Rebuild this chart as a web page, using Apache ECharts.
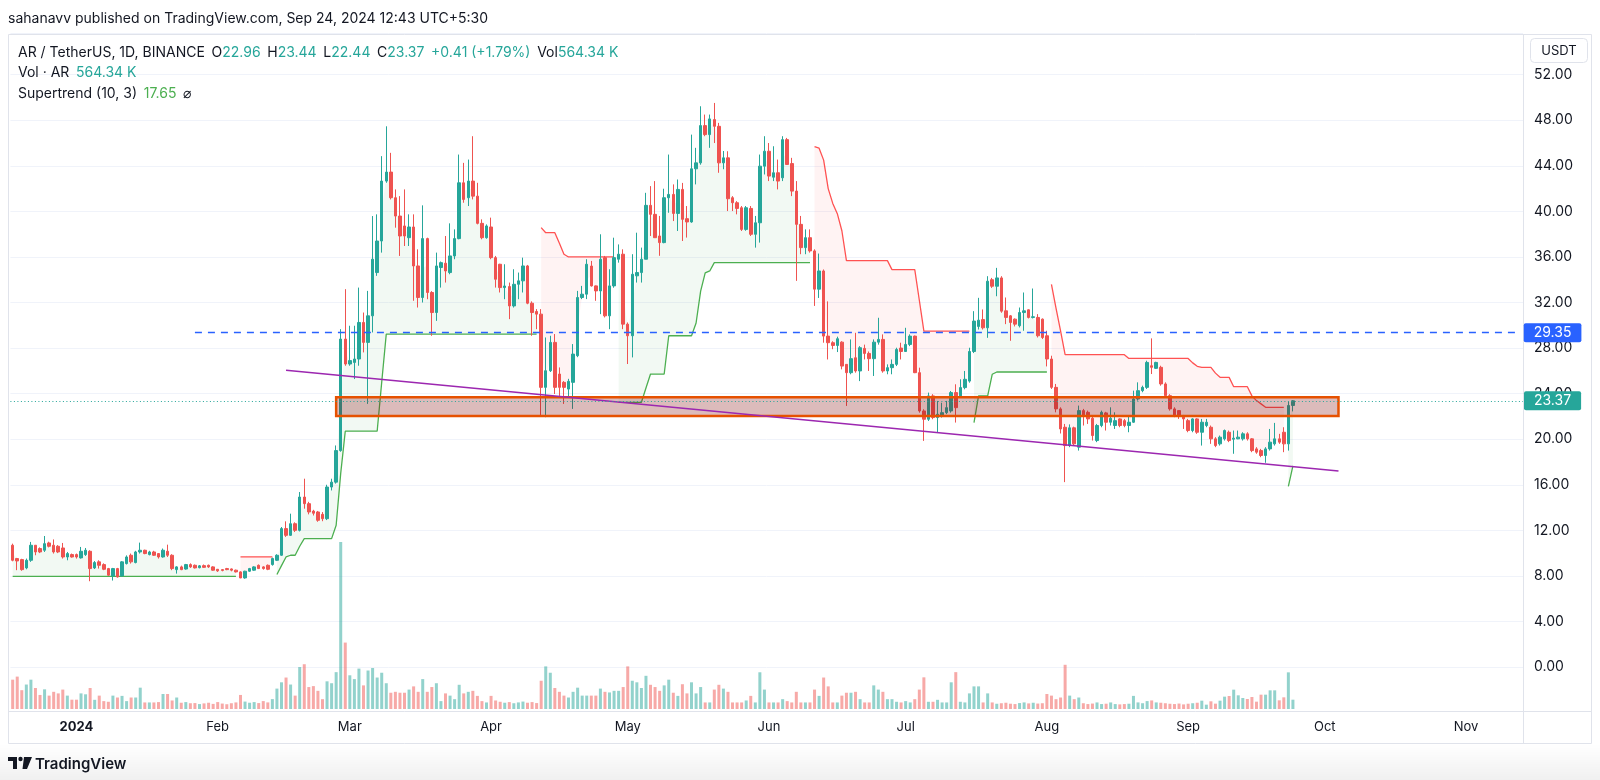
<!DOCTYPE html>
<html><head><meta charset="utf-8">
<script src="https://cdn.jsdelivr.net/npm/echarts@6/dist/echarts.min.js"></script>
<style>html,body{margin:0;padding:0;background:#fff}#c{width:1600px;height:780px}</style>
</head><body><div id="c"></div>
<script>
const _ = null;
// first category date and number of daily slots on the time axis (Dec 18 2023 .. Nov 13 2024)
const startDate = [2023, 11, 18];
const slotCount = 332;
const monthNames = ['Jan','Feb','Mar','Apr','May','Jun','Jul','Aug','Sep','Oct','Nov','Dec'];

// daily candles [open, high, low, close], Dec 18 2023 .. Sep 24 2024
const ohlc = [
[10.69,10.83,9.28,9.37],[9.52,9.58,8.50,9.31],[9.43,9.50,8.45,8.55],[8.70,9.52,8.58,9.37],[9.37,10.98,9.23,10.69],
[10.69,10.70,9.81,10.10],[10.40,10.50,10.00,10.10],[10.25,11.50,10.10,10.83],[10.89,11.00,10.50,10.60],[10.69,11.20,9.96,10.10],
[10.60,10.70,10.00,10.10],[10.45,10.89,9.52,9.66],[9.66,10.10,9.37,9.96],[9.87,9.96,9.60,9.66],[9.87,9.96,9.52,9.66],
[9.58,10.54,9.52,10.16],[9.87,10.45,9.75,10.25],[10.16,10.25,7.53,8.64],[8.70,9.30,8.60,9.17],[9.23,9.37,8.64,8.93],
[8.99,9.10,8.50,8.58],[8.64,8.70,8.00,8.06],[8.00,8.70,7.59,8.64],[8.64,8.70,7.85,7.91],[8.00,9.30,7.95,9.23],
[9.08,9.80,9.00,9.66],[9.81,9.96,9.08,9.23],[9.17,10.20,9.10,10.10],[10.10,10.92,9.96,10.25],[10.25,10.30,9.90,9.96],
[9.87,10.20,9.80,10.10],[10.10,10.20,9.75,9.81],[9.96,10.00,9.52,9.66],[9.66,10.40,9.60,10.25],[10.16,10.74,9.66,9.81],
[9.81,9.90,8.50,8.64],[8.55,8.85,8.20,8.79],[8.79,8.90,8.50,8.55],[8.60,9.05,8.55,8.99],[8.99,9.10,8.70,8.79],
[8.93,9.00,8.65,8.70],[8.72,8.95,8.66,8.88],[8.90,9.00,8.70,8.75],[8.93,8.99,8.70,8.79],[8.79,8.85,8.45,8.50],
[8.58,8.60,8.35,8.44],[8.55,8.60,8.40,8.48],[8.64,8.70,8.50,8.55],[8.61,8.65,8.40,8.50],[8.50,8.55,8.30,8.35],
[8.35,8.40,7.80,7.82],[7.82,8.45,7.75,8.41],[8.41,8.70,8.35,8.64],[8.50,8.85,8.45,8.79],[8.93,9.00,8.60,8.64],
[8.79,8.85,8.55,8.64],[8.93,9.00,8.50,8.58],[8.99,9.60,8.90,9.52],[9.37,9.90,9.30,9.81],
[9.81,12.29,9.75,12.15],[12.15,12.79,11.42,11.56],[11.56,13.46,11.50,12.58],[12.58,12.70,11.85,12.00],[12.00,15.36,11.90,14.92],
[14.92,16.53,13.90,14.34],[14.34,14.50,13.40,13.61],[13.69,13.80,13.30,13.50],[13.61,13.70,12.75,12.88],[13.40,13.60,12.80,13.02],
[13.02,16.00,12.90,15.80],[15.80,16.53,15.50,16.23],[16.23,19.45,16.10,19.00],[19.00,29.66,18.90,28.79],[28.79,33.17,26.45,26.60],
[26.60,29.96,26.45,26.90],[26.74,29.96,25.28,27.04],[27.04,33.31,26.45,30.25],[30.25,31.12,27.62,28.50],[28.50,33.02,23.10,30.83],
[30.83,39.59,29.37,35.80],[34.63,39.74,34.34,37.40],[37.40,44.85,36.38,42.66],[42.66,47.47,42.51,43.45],[43.45,45.14,41.05,41.20],
[41.20,41.93,38.57,39.59],[39.59,41.34,36.09,37.84],[38.72,41.93,36.96,37.84],[37.69,39.74,36.96,38.63],[38.63,39.74,32.15,35.21],
[35.21,36.67,31.56,32.44],[32.44,40.53,32.00,37.61],[37.61,37.69,32.29,32.88],[32.88,33.00,29.08,31.12],[31.12,36.38,30.39,35.21],
[35.07,35.60,33.31,35.50],[35.45,37.84,33.75,34.77],[34.63,38.95,34.48,36.09],[36.09,38.42,35.80,37.61],[37.61,44.99,37.55,42.51],
[42.51,44.26,40.76,41.05],[41.20,44.55,40.47,42.66],[42.66,46.60,41.05,41.34],[41.34,42.51,38.86,38.95],[38.95,39.30,37.55,37.69],
[37.69,38.86,37.60,38.72],[38.63,39.45,35.80,35.94],[35.94,36.09,33.31,34.04],[35.36,35.40,32.88,33.31],[33.31,35.36,32.29,33.45],
[33.40,33.75,30.54,31.70],[31.70,34.92,31.56,33.60],[33.60,34.63,32.29,33.90],[33.90,35.94,32.88,35.21],[35.21,35.30,31.85,31.94],
[31.94,32.10,29.08,31.12],[31.21,31.42,29.66,30.98],[30.98,31.42,22.07,24.55],[24.55,28.93,21.93,26.01],
[26.01,29.08,25.90,28.50],[28.50,29.23,23.97,24.55],[25.72,26.30,23.80,24.55],[24.99,25.10,23.10,24.55],[24.40,25.30,23.70,25.08],
[24.99,28.35,22.66,27.47],[27.33,33.02,27.20,32.44],[32.44,33.46,32.30,32.73],[32.73,35.80,32.30,35.36],[35.20,35.65,33.40,33.46],
[33.46,33.50,32.15,33.02],[33.02,37.99,30.98,35.80],[35.94,36.09,30.69,30.83],[30.83,34.92,29.66,33.46],[33.46,37.69,33.30,35.94],
[35.80,37.10,35.50,36.24],[36.24,36.67,29.66,30.10],[30.10,30.25,26.60,29.08],[29.08,36.24,27.18,34.48],[34.34,38.13,33.75,34.63],
[34.63,36.82,33.75,35.80],[35.80,41.63,35.80,40.53],[40.53,42.22,37.84,39.74],[39.74,42.66,37.69,37.69],[37.84,39.60,36.10,37.26],
[37.26,41.99,37.20,41.20],[41.20,44.99,39.88,41.49],[41.49,42.37,39.15,39.82],[39.82,42.80,38.28,41.93],[41.93,42.50,37.40,39.30],
[39.36,40.47,37.70,39.07],[39.07,46.74,39.00,43.74],[43.74,45.58,42.37,44.26],[44.26,49.23,44.10,47.53],[47.53,48.50,46.60,46.74],
[46.74,48.50,45.58,48.12],[48.06,49.52,46.00,47.47],[47.47,47.77,43.39,44.26],[44.26,45.30,43.70,44.70],[44.70,45.28,40.03,41.11],
[41.20,41.34,40.03,40.76],[40.76,40.90,39.74,40.26],[40.32,40.47,38.28,38.42],[38.42,40.47,38.30,40.32],[40.26,40.47,37.84,37.99],
[37.99,39.60,36.82,39.00],[39.00,44.99,37.26,43.97],[43.97,46.60,43.24,45.28],[45.28,46.00,42.66,43.10],[43.00,45.72,42.66,43.39],
[43.39,44.55,41.93,42.66],[42.95,46.60,42.66,46.30],[46.30,46.45,44.10,44.12],[44.20,44.70,41.34,41.78],[41.78,42.66,33.90,38.86],
[38.86,39.60,36.24,36.82],[36.82,38.42,36.24,37.69],[37.69,38.42,36.38,36.53],[36.53,36.67,31.70,33.17],[33.17,36.30,32.40,34.77],
[34.77,34.90,28.47,29.05],[29.05,32.10,27.00,28.47],[28.47,28.60,27.90,28.23],[28.23,29.00,27.65,28.82],[28.52,28.60,26.13,26.42],
[26.57,26.60,22.92,25.84],[25.84,28.76,25.70,27.07],[27.15,29.34,25.84,25.99],[25.99,28.17,25.10,28.03],[27.97,28.30,27.00,27.53],
[27.53,27.70,25.99,27.07],[27.07,28.76,25.55,28.52],[28.52,30.66,28.30,28.76],[28.76,29.20,25.84,25.99],[25.99,26.57,25.70,26.28],
[26.28,27.00,25.70,26.57],[26.57,28.03,26.42,27.88],[28.00,28.47,27.00,27.70],[27.70,29.78,27.70,28.32],[28.32,29.20,28.17,29.05],
[29.05,29.10,25.80,25.84],[25.84,26.28,22.33,22.48],[22.48,22.63,19.85,21.75],[21.75,24.09,21.60,23.80],[23.80,23.95,21.75,21.90],
[21.90,23.36,20.58,22.19],[22.04,23.20,21.90,22.33],[22.33,23.36,22.20,22.77],[22.48,24.23,22.33,24.09],[24.09,24.82,21.46,22.77],
[23.80,25.26,23.65,24.53],[24.53,25.99,24.38,25.26],[25.10,28.03,24.96,27.70],[27.70,31.24,27.56,30.37],[29.90,32.41,29.63,30.45],
[30.50,31.39,29.63,29.78],[29.78,34.31,28.90,33.87],[34.00,34.16,33.28,33.43],[33.43,35.04,32.55,34.16],[34.16,34.31,31.10,31.24],
[31.27,32.44,30.10,30.69],[30.83,30.90,28.64,30.25],[30.54,30.60,29.90,30.10],[29.96,31.56,29.81,31.12],[31.12,32.88,29.52,31.27],
[31.36,31.40,30.60,30.69],[30.69,33.23,30.60,30.75],[30.69,30.98,28.93,29.08],[30.54,30.60,28.79,28.93],[29.08,29.52,26.39,27.04],
[27.04,27.33,24.41,24.55],[24.55,24.85,22.36,22.66],[22.66,22.80,20.50,20.90],[21.05,21.34,16.23,19.44],[19.44,21.30,19.30,21.00],
[21.00,21.10,19.40,19.59],[19.30,22.95,19.00,22.51],[22.51,22.66,21.20,22.07],[22.36,22.51,21.34,21.78],[21.84,22.07,19.88,20.32],
[19.88,21.34,19.74,21.20],[21.20,22.51,21.05,22.36],[22.31,22.40,20.76,21.49],[21.49,22.80,21.20,21.84],[21.20,22.36,20.90,21.63],
[21.78,21.84,21.05,21.20],[21.63,21.78,21.05,21.20],[21.20,22.07,20.61,21.49],[21.49,24.26,21.43,23.53],[23.53,24.99,23.39,24.26],
[24.26,24.70,24.12,24.55],[24.55,26.89,24.41,26.74],[26.45,28.85,25.72,26.31],[26.22,26.80,26.16,26.74],[26.31,26.45,24.70,24.85],
[24.85,24.99,23.68,23.82],[23.82,23.95,22.51,22.66],[22.66,22.80,21.93,22.07],[22.51,22.51,21.78,22.07],[22.07,22.13,20.90,21.78],
[21.63,21.78,20.61,20.76],[20.76,21.84,20.61,21.78],[21.78,21.84,20.47,20.61],[20.61,21.78,19.44,21.49],[21.20,21.78,21.05,21.49],
[21.05,21.20,19.59,20.03],[20.03,20.18,19.30,19.44],[19.59,20.32,19.44,20.18],[20.03,20.85,19.88,20.76],[20.61,20.76,19.74,19.88],
[20.00,20.76,18.72,20.09],[20.03,20.76,20.00,20.18],[20.03,20.61,19.88,20.47],[20.47,20.61,19.88,20.03],[20.03,20.09,18.86,19.00],
[19.15,19.30,18.72,18.86],[19.00,19.15,18.42,18.57],[18.57,19.30,17.93,19.15],[19.15,20.90,19.00,19.74],[19.59,21.43,19.44,20.03],
[20.03,20.47,19.59,19.74],[20.61,21.05,18.86,19.59],[19.59,23.30,19.00,22.96],[22.96,23.44,22.44,23.37]
];

// daily volume, thousands of AR
const volumes = [
1780,1966,1142,1485,1780,1274,852,1194,812,1043,
947,1178,812,565,565,947,892,1274,557,812,
478,438,812,697,796,478,697,697,1294,398,
398,398,420,911,911,517,697,380,420,350,
360,300,340,380,310,420,330,290,350,400,
852,450,380,420,360,480,400,600,1238,1620,
1910,1485,812,2547,2718,1333,1389,1102,597,1680,
1564,2237,10137,4032,2046,1815,2452,1433,2336,2488,
1910,2201,1564,987,1043,987,987,1178,1373,1043,
1815,1043,1333,1564,478,947,812,597,1469,947,
1043,1102,796,478,398,796,517,438,380,420,
350,400,450,380,420,360,1715,2587,2201,1274,
1043,812,697,1043,1294,812,812,812,812,1238,
1043,1005,1102,1102,1333,2587,1715,1620,1274,2014,
1469,1333,1102,1433,1780,987,796,1504,947,1620,
947,1333,398,398,1178,1469,1238,1043,398,398,
398,517,796,398,2229,1178,398,398,398,597,
478,398,1043,398,398,398,1178,796,1910,1373,
398,398,812,987,987,1043,597,398,398,1433,
1178,1043,597,597,438,398,478,398,597,1178,
1922,438,438,557,398,398,1620,2237,438,398,
947,1373,1373,398,947,398,318,350,380,320,
300,360,400,340,380,330,350,911,812,597,
697,2683,812,597,697,350,300,330,398,300,
320,398,300,280,300,320,796,400,350,480,
520,400,380,350,318,300,330,280,320,350,
380,505,263,467,324,505,749,789,1174,830,
668,607,728,445,870,870,1133,1133,526,708,
2225,564.34
];

// Supertrend (10,3): up-trend (green) and down-trend (red) values
const stUp = [
7.95,7.95,7.95,7.95,7.95,7.95,7.95,7.95,7.95,7.95,
7.95,7.95,7.95,7.95,7.95,7.95,7.95,7.95,7.95,7.95,
7.95,7.95,7.95,7.95,7.95,7.95,7.95,7.95,7.95,7.95,
7.95,7.95,7.95,7.95,7.95,7.95,7.95,7.95,7.95,7.95,
7.95,7.95,7.95,7.95,7.95,7.95,7.95,7.95,7.95,7.95,
_,_,_,_,_,_,_,_,8.12,8.9,
9.66,9.81,9.81,10.6,11.27,11.27,11.27,11.27,11.27,11.27,
11.27,12.44,17.0,20.7,20.7,20.7,20.7,20.7,20.7,20.7,
20.7,25.0,29.23,29.23,29.23,29.23,29.23,29.23,29.23,29.23,
29.23,29.23,29.23,29.23,29.23,29.23,29.23,29.23,29.23,29.23,
29.23,29.23,29.23,29.23,29.23,29.23,29.23,29.23,29.23,29.23,
29.23,29.23,29.23,29.23,29.23,29.23,_,_,_,_,
_,_,_,_,_,_,_,_,_,_,
_,_,_,23.24,23.24,23.24,23.24,23.24,23.24,24.5,
25.72,25.72,25.72,25.72,29.08,29.08,29.08,29.08,29.08,29.08,
30.2,33.0,34.6,34.77,35.5,35.5,35.5,35.5,35.5,35.5,
35.5,35.5,35.5,35.5,35.5,35.5,35.5,35.5,35.5,35.5,
35.5,35.5,35.5,35.5,35.5,35.5,_,_,_,_,
_,_,_,_,_,_,_,_,_,_,
_,_,_,_,_,_,_,_,_,_,
_,_,_,_,_,_,_,_,_,_,
_,21.46,23.8,23.8,23.8,25.7,25.9,25.9,25.9,25.9,
25.9,25.9,25.9,25.9,25.9,25.9,25.9,25.9,_,_,
_,_,_,_,_,_,_,_,_,_,
_,_,_,_,_,_,_,_,_,_,
_,_,_,_,_,_,_,_,_,_,
_,_,_,_,_,_,_,_,_,_,
_,_,_,_,_,_,_,_,_,_,
15.85,17.65
];
const stDown = [
_,_,_,_,_,_,_,_,_,_,
_,_,_,_,_,_,_,_,_,_,
_,_,_,_,_,_,_,_,_,_,
_,_,_,_,_,_,_,_,_,_,
_,_,_,_,_,_,_,_,_,_,
9.66,9.66,9.66,9.66,9.66,9.66,9.66,9.66,_,_,
_,_,_,_,_,_,_,_,_,_,
_,_,_,_,_,_,_,_,_,_,
_,_,_,_,_,_,_,_,_,_,
_,_,_,_,_,_,_,_,_,_,
_,_,_,_,_,_,_,_,_,_,
_,_,_,_,_,_,38.57,38.13,38.13,38.13,
37.2,36.24,36.0,36.0,36.0,36.0,36.0,36.0,36.0,36.0,
36.0,36.0,36.0,_,_,_,_,_,_,_,
_,_,_,_,_,_,_,_,_,_,
_,_,_,_,_,_,_,_,_,_,
_,_,_,_,_,_,_,_,_,_,
_,_,_,_,_,_,45.69,45.55,44.5,42.0,
40.7,39.8,38.3,35.68,35.68,35.68,35.68,35.68,35.68,35.68,
35.68,35.68,35.68,34.89,34.89,34.89,34.89,34.89,34.89,32.2,
29.49,29.49,29.49,29.49,29.49,29.49,29.49,29.49,29.49,29.49,
29.49,_,_,_,_,_,_,_,_,_,
_,_,_,_,_,_,_,_,33.6,31.5,
29.5,27.42,27.42,27.42,27.42,27.42,27.42,27.42,27.42,27.42,
27.42,27.42,27.42,27.42,27.42,27.09,27.09,27.09,27.09,27.09,
27.09,27.09,27.09,27.09,27.09,27.09,27.09,27.09,27.09,26.7,
26.4,26.31,26.31,26.31,25.8,25.43,25.43,25.43,24.61,24.61,
24.61,24.61,23.8,23.39,23.1,22.8,22.8,22.8,22.8,22.8,
_,_
];

// drawings
const resistanceLevel = 29.35;
const resistanceFrom = '2024-01-27';
const zoneFrom = '2024-02-27', zoneTo = '2024-10-04';
const zoneTop = 23.68, zoneBottom = 22.04;
const trendFrom = ['2024-02-16', 26.06];
const trendTo = ['2024-10-04', 17.21];

const priceTicks = [0,4,8,12,16,20,24,28,32,36,40,44,48,52];

// ---------- build ----------
const cats = [];
{
  const d0 = Date.UTC(startDate[0], startDate[1], startDate[2]);
  for (let k = 0; k < slotCount; k++) cats.push(new Date(d0 + k * 86400000).toISOString().slice(0, 10));
}
const UP = '#26a69a', DOWN = '#ef5350';
const candleData = ohlc.map(r => [r[0], r[3], r[2], r[1]]);
const mid = ohlc.map(r => (r[0] + r[3]) / 2);
const bandUp = stUp.map((v, k) => v == null ? null : +(mid[k] - v).toFixed(4));
const bandDown = stDown.map((v, k) => v == null ? null : +(mid[k] - v).toFixed(4));
const volData = volumes.map((v, k) => ({
  value: v,
  itemStyle: { color: ohlc[k][3] >= ohlc[k][0] ? 'rgba(38,166,154,0.5)' : 'rgba(239,83,80,0.5)' }
}));
const last = ohlc[ohlc.length - 1], prev = ohlc[ohlc.length - 2];
const chg = last[3] - prev[3];
const pct = chg / prev[3] * 100;
const lastVol = volumes[volumes.length - 1];
const lastST = stUp[stUp.length - 1];

const FONT = 'Inter, "Noto Sans", Roboto, sans-serif';
const DARK = '#131722';
const f2 = v => v.toFixed(2);

const chart = echarts.init(document.getElementById('c'), null, { renderer: 'canvas', width: 1600, height: 780 });

const legendRich = {
  d: { fill: DARK, font: '14px ' + FONT },
  v: { fill: UP, font: '14px ' + FONT },
  g: { fill: '#4caf50', font: '14px ' + FONT }
};

chart.setOption({
  animation: false,
  textStyle: { fontFamily: FONT },
  grid: [
    { left: 10.4, right: 77, top: 33.7, height: 633.3 },
    { left: 10.4, right: 77, top: 539, height: 170 }
  ],
  xAxis: [
    { type: 'category', gridIndex: 0, data: cats, boundaryGap: true, show: false },
    {
      type: 'category', gridIndex: 1, data: cats, boundaryGap: true,
      axisLine: { show: false }, axisTick: { show: false }, splitLine: { show: false },
      axisLabel: {
        interval: (i, v) => v.slice(8) === '01',
        formatter: v => { const m = +v.slice(5, 7); return m === 1 ? '{y|' + v.slice(0, 4) + '}' : monthNames[m - 1]; },
        color: DARK, fontSize: 13, margin: 12, fontFamily: FONT,
        rich: { y: { fontWeight: 'bold', fontSize: 13, color: DARK, fontFamily: FONT } }
      }
    }
  ],
  yAxis: [
    {
      type: 'value', gridIndex: 0, position: 'right', min: 0, max: 55.6, interval: 4,
      axisLine: { show: false }, axisTick: { show: false },
      splitLine: { lineStyle: { color: '#f0f3fa', width: 1 } },
      axisLabel: {
        color: DARK, fontSize: 14, margin: 11, fontFamily: FONT,
        formatter: v => priceTicks.indexOf(Math.round(v * 100) / 100) >= 0 ? f2(v) : ''
      }
    },
    { type: 'value', gridIndex: 1, min: 0, max: 10319, show: false }
  ],
  series: [
    { type: 'line', name: 'stUp', data: stUp, stack: 'up', stackStrategy: 'all', symbol: 'none', silent: true,
      lineStyle: { color: '#4caf50', width: 1.3 }, z: 3 },
    { type: 'line', name: 'stUpFill', data: bandUp, stack: 'up', stackStrategy: 'all', symbol: 'none', silent: true,
      lineStyle: { opacity: 0, width: 0 }, areaStyle: { color: 'rgba(76,175,80,0.10)' }, z: 1 },
    { type: 'line', name: 'stDown', data: stDown, stack: 'down', stackStrategy: 'all', symbol: 'none', silent: true,
      lineStyle: { color: '#ff5252', width: 1.3 }, z: 3 },
    { type: 'line', name: 'stDownFill', data: bandDown, stack: 'down', stackStrategy: 'all', symbol: 'none', silent: true,
      lineStyle: { opacity: 0, width: 0 }, areaStyle: { color: 'rgba(255,82,82,0.10)' }, z: 1 },
    {
      type: 'candlestick', name: 'AR', data: candleData, barWidth: 3, z: 4,
      itemStyle: { color: UP, color0: DOWN, borderColor: UP, borderColor0: DOWN, borderWidth: 1 },
      markLine: {
        silent: true, symbol: ['none', 'none'], animation: false, z: 8,
        data: [
          [
            { coord: trendFrom, lineStyle: { color: '#9c27b0', width: 1.5, type: 'solid' }, label: { show: false } },
            { coord: trendTo }
          ],
          [
            { coord: [resistanceFrom, resistanceLevel], lineStyle: { color: '#2962ff', width: 1.4, type: [7, 6] },
              label: { show: true, position: 'end', distance: 3, formatter: f2(resistanceLevel), color: '#fff',
                backgroundColor: '#2962ff', padding: [2, 10, 2, 10], lineHeight: 15, fontSize: 14, borderRadius: 2, fontFamily: FONT } },
            { coord: [cats[cats.length - 1], resistanceLevel] }
          ],
          { yAxis: last[3], lineStyle: { color: UP, width: 1.2, type: [1, 2.5] },
            label: { show: true, position: 'end', distance: 1, formatter: f2(last[3]), color: '#fff',
              backgroundColor: UP, padding: [2, 10, 2, 10], lineHeight: 15, fontSize: 14, borderRadius: 2, fontFamily: FONT } }
        ]
      }
    },
    {
      type: 'custom', name: 'zone', z: 6, silent: true,
      data: [[zoneFrom, zoneTop, zoneTo, zoneBottom]],
      encode: { x: [0, 2], y: [1, 3] },
      renderItem: (params, api) => {
        const p1 = api.coord([api.value(0), api.value(1)]);
        const p2 = api.coord([api.value(2), api.value(3)]);
        return { type: 'rect', shape: { x: p1[0], y: p1[1], width: p2[0] - p1[0], height: p2[1] - p1[1] },
          style: { fill: 'rgba(128,10,10,0.28)', stroke: '#e65100', lineWidth: 2.5 } };
      }
    },
    { type: 'bar', name: 'Vol', xAxisIndex: 1, yAxisIndex: 1, data: volData, barWidth: 3, silent: true, z: 2 }
  ],
  graphic: [
    { type: 'rect', z: 0, silent: true, shape: { x: 0, y: 744, width: 1600, height: 36 },
      style: { fill: new echarts.graphic.LinearGradient(0, 0, 0, 1, [{ offset: 0, color: 'rgba(0,0,0,0)' }, { offset: 1, color: 'rgba(0,0,0,0.06)' }]) } },
    { type: 'rect', z: 0, silent: true, shape: { x: 8.5, y: 34.5, width: 1583, height: 709 }, style: { fill: 'none', stroke: '#e0e3eb', lineWidth: 1 } },
    { type: 'line', z: 0, silent: true, shape: { x1: 1523.5, y1: 34.5, x2: 1523.5, y2: 743.5 }, style: { stroke: '#e0e3eb', lineWidth: 1 } },
    { type: 'line', z: 0, silent: true, shape: { x1: 8.5, y1: 711.5, x2: 1591.5, y2: 711.5 }, style: { stroke: '#e0e3eb', lineWidth: 1 } },
    { type: 'rect', z: 10, silent: true, shape: { x: 1530.5, y: 38.5, width: 57, height: 24, r: 4 }, style: { fill: '#fff', stroke: '#e0e3eb', lineWidth: 1 } },
    { type: 'text', z: 11, silent: true, style: { x: 1559, y: 51, text: 'USDT', fill: DARK, font: '13px ' + FONT, align: 'center', verticalAlign: 'middle' } },
    { type: 'text', z: 11, silent: true, style: { x: 8, y: 19, text: 'sahanavv published on TradingView.com, Sep 24, 2024 12:43 UTC+5:30', fill: DARK, font: '14px ' + FONT, verticalAlign: 'middle' } },
    { type: 'text', z: 11, silent: true, style: { x: 18, y: 52.5, verticalAlign: 'middle', rich: legendRich,
        text: '{d|AR / TetherUS, 1D, BINANCE}  {d|O}{v|' + f2(last[0]) + '}  {d|H}{v|' + f2(last[1]) + '}  {d|L}{v|' + f2(last[2]) + '}  {d|C}{v|' + f2(last[3]) +
              '}  {v|' + (chg >= 0 ? '+' : '') + f2(chg) + ' (' + (pct >= 0 ? '+' : '') + f2(pct) + '%)}  {d|Vol}{v|' + f2(lastVol) + ' K}' } },
    { type: 'text', z: 11, silent: true, style: { x: 18, y: 73, verticalAlign: 'middle', rich: legendRich,
        text: '{d|Vol · AR}  {v|' + f2(lastVol) + ' K}' } },
    { type: 'text', z: 11, silent: true, style: { x: 18, y: 93.5, verticalAlign: 'middle', rich: legendRich,
        text: '{d|Supertrend (10, 3)}  {g|' + f2(lastST) + '}  {d|⌀}' } },
    // TradingView logo mark
    { type: 'rect', z: 11, silent: true, shape: { x: 8, y: 757, width: 9, height: 4 }, style: { fill: DARK } },
    { type: 'rect', z: 11, silent: true, shape: { x: 13, y: 757, width: 4, height: 12 }, style: { fill: DARK } },
    { type: 'circle', z: 11, silent: true, shape: { cx: 20.5, cy: 759, r: 2.2 }, style: { fill: DARK } },
    { type: 'polygon', z: 11, silent: true, shape: { points: [[24, 757], [32, 757], [27, 769], [22.5, 769]] }, style: { fill: DARK } },
    { type: 'text', z: 11, silent: true, style: { x: 35, y: 764, text: 'TradingView', fill: DARK, font: '600 15px ' + FONT, verticalAlign: 'middle' } }
  ]
});
</script></body></html>
